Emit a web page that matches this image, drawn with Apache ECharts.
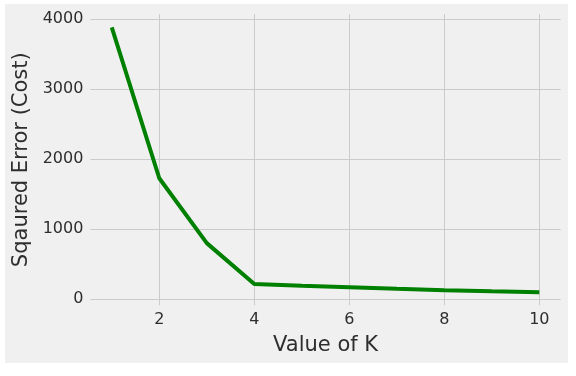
<!DOCTYPE html>
<html>
<head>
<meta charset="utf-8">
<script src="https://cdn.jsdelivr.net/npm/echarts@6/dist/echarts.min.js"></script>
<style>
html,body{margin:0;padding:0;background:#ffffff;}
#wrap{position:absolute;left:5px;top:4px;width:563px;height:359px;background:#f0f0f0;}
#chart{position:absolute;left:0;top:0;width:576px;height:376px;}
</style>
</head>
<body>
<div id="wrap"></div>
<div id="chart"></div>
<script>
const kValues = [1, 2, 3, 4, 5, 6, 7, 8, 9, 10];
const costValues = [3880, 1725, 798, 213, 188, 168, 146, 125, 110, 97];
const xTicks = [2, 4, 6, 8, 10];
const yTicks = [0, 1000, 2000, 3000, 4000];
const xLabel = 'Value of K';
const yLabel = 'Sqaured Error (Cost)';

const chart = echarts.init(document.getElementById('chart'), null, {renderer: 'canvas'});
const font = 'DejaVu Sans';
chart.setOption({
  backgroundColor: 'transparent',
  animation: false,
  grid: {left: 90.4, right: 15.3, top: 14.2, bottom: 70.8, containLabel: false},
  xAxis: {
    type: 'value', min: 0.55, max: 10.45,
    axisLine: {show: false},
    axisTick: {show: false, customValues: xTicks},
    axisLabel: {customValues: xTicks, formatter: v => String(v), color: '#2e2e2e', fontFamily: font, fontSize: 16, margin: 7},
    splitLine: {show: true, lineStyle: {color: '#cbcbcb', width: 1}},
    name: xLabel, nameLocation: 'middle', nameGap: 30,
    nameTextStyle: {color: '#2e2e2e', fontFamily: font, fontSize: 21}
  },
  yAxis: {
    type: 'value', min: -89, max: 4069,
    axisLine: {show: false},
    axisTick: {show: false, customValues: yTicks},
    axisLabel: {customValues: yTicks, formatter: v => String(v), color: '#2e2e2e', fontFamily: font, fontSize: 16, margin: 7},
    splitLine: {show: true, lineStyle: {color: '#cbcbcb', width: 1}},
    name: yLabel, nameLocation: 'middle', nameGap: 55,
    nameTextStyle: {color: '#2e2e2e', fontFamily: font, fontSize: 21}
  },
  series: [{
    type: 'line',
    data: kValues.map((k, i) => [k, costValues[i]]),
    showSymbol: false,
    lineStyle: {color: '#008000', width: 4},
    itemStyle: {color: '#008000'}
  }]
});
</script>
</body>
</html>
